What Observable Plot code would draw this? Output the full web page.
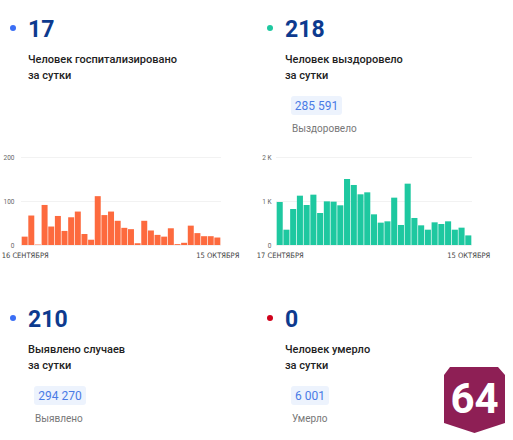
<!DOCTYPE html>
<html>
<head>
<meta charset="utf-8">
<script src="https://cdn.jsdelivr.net/npm/d3@7"></script>
<script src="https://cdn.jsdelivr.net/npm/@observablehq/plot@0.6"></script>
<style>
  html, body { margin: 0; padding: 0; background: #fff; }
  body { width: 513px; height: 440px; position: relative; overflow: hidden; font-family: Roboto, "Noto Sans", sans-serif; }
  .abs { position: absolute; white-space: nowrap; }
  .dot { position: absolute; width: 6px; height: 6px; border-radius: 50%; }
  .big { font-size: 23px; font-weight: 700; color: #0d3a8e; line-height: 1; }
  .desc { font-size: 11px; font-weight: 500; color: #222; line-height: 16px; }
  .box { position: absolute; height: 19px; background: #edf3fd; border-radius: 3px; color: #4a7be6; font-size: 12px; display: flex; align-items: center; justify-content: center; }
  .sub { font-size: 10px; color: #777; line-height: 1; }
  .chart { position: absolute; }
</style>
</head>
<body>
<div id="root"></div>
<script>
// ---- data ----
const hospStart = "2021-09-16";
const hospTickLabels = ["16 СЕНТЯБРЯ", "15 ОКТЯБРЯ"];
const hospValues = [19, 67, 1, 91, 42, 66, 32, 63, 76, 25, 12, 111, 68, 76, 55, 39, 36, 4, 55, 33, 23, 19, 38, 2, 5, 44, 27, 20, 20, 17];
const hospYTicks = [0, 100, 200];
const hospYLabels = ["0", "100", "200"];

const recStart = "2021-09-17";
const recTickLabels = ["17 СЕНТЯБРЯ", "15 ОКТЯБРЯ"];
const recValues = [977, 348, 818, 1121, 909, 1144, 727, 992, 985, 902, 1500, 1364, 1152, 1197, 697, 508, 538, 1076, 455, 1394, 614, 447, 348, 515, 477, 538, 348, 394, 218];
const recYTicks = [0, 1000, 2000];
const recYLabels = ["0", "1 K", "2 K"];

const cards = [
  {dot: "#3b6ef5", value: "17", line1: "Человек госпитализировано", line2: "за сутки", total: null, totalLabel: null},
  {dot: "#1ec8a0", value: "218", line1: "Человек выздоровело", line2: "за сутки", total: "285 591", totalLabel: "Выздоровело"},
  {dot: "#3b6ef5", value: "210", line1: "Выявлено случаев", line2: "за сутки", total: "294 270", totalLabel: "Выявлено"},
  {dot: "#d0021b", value: "0", line1: "Человек умерло", line2: "за сутки", total: "6 001", totalLabel: "Умерло"}
];

// ---- layout ----
const root = document.getElementById("root");
const cardPos = [
  {x: 0, y: 0}, {x: 257, y: 0}, {x: 0, y: 290}, {x: 257, y: 290}
];
const boxWidths = [0, 51, 52, 38];

cards.forEach((c, i) => {
  const {x, y} = cardPos[i];
  const dot = document.createElement("div");
  dot.className = "dot";
  dot.style.left = (x + 10) + "px";
  dot.style.top = (y + 25) + "px";
  dot.style.background = c.dot;
  root.appendChild(dot);

  const big = document.createElement("div");
  big.className = "abs big";
  big.style.left = (x + 28) + "px";
  big.style.top = (y + 18) + "px";
  big.textContent = c.value;
  root.appendChild(big);

  const desc = document.createElement("div");
  desc.className = "abs desc";
  desc.style.left = (x + 28) + "px";
  desc.style.top = (y + 52) + "px";
  desc.innerHTML = c.line1 + "<br>" + c.line2;
  root.appendChild(desc);

  if (c.total) {
    const box = document.createElement("div");
    box.className = "box";
    box.style.left = (x + 34) + "px";
    box.style.top = (y + 96) + "px";
    box.style.width = boxWidths[i] + "px";
    box.textContent = c.total;
    root.appendChild(box);

    const sub = document.createElement("div");
    sub.className = "abs sub";
    sub.style.left = (x + 35) + "px";
    sub.style.top = (y + 123.5) + "px";
    sub.textContent = c.totalLabel;
    root.appendChild(sub);
  }
});

function dayKeys(start, n) {
  const s = new Date(start + "T00:00:00Z");
  return d3.utcDay.range(s, d3.utcDay.offset(s, n)).map(d3.utcFormat("%Y-%m-%d"));
}

function makeChart(values, start, tickLabels, yTicks, yLabels, fill, ml, mr, tp) {
  const days = dayKeys(start, values.length);
  const rows = values.map((v, i) => ({day: days[i], value: v}));
  const ends = [days[0], days[days.length - 1]];
  return Plot.plot({
    width: 245,
    height: 125,
    marginTop: 12,
    marginBottom: 25,
    marginLeft: ml,
    marginRight: mr,
    style: {fontFamily: "Roboto, sans-serif", fontSize: "6.5px", color: "#666", background: "transparent", overflow: "visible"},
    x: {type: "band", domain: days, paddingInner: 0.1, paddingOuter: 0.1, round: false},
    y: {domain: [0, yTicks[yTicks.length - 1]]},
    marks: [
      Plot.gridY(yTicks, {stroke: "#000", strokeOpacity: 0.05}),
      Plot.barY(rows, {x: "day", y: "value", fill}),
      Plot.axisY(yTicks, {tickSize: 0, tickPadding: tp, tickFormat: d => yLabels[yTicks.indexOf(d)], label: null, fill: "#666"}),
      Plot.axisX(ends, {tickSize: 0, tickPadding: 7, tickFormat: d => tickLabels[ends.indexOf(d)], label: null, fill: "#444", fontSize: 7.5, fontFamily: "'Liberation Sans Narrow', 'DejaVu Sans Condensed', Roboto, sans-serif"})
    ]
  });
}

const c1 = makeChart(hospValues, hospStart, hospTickLabels, hospYTicks, hospYLabels, "#fd6a3e", 21, 24, 7);
c1.classList.add("chart");
c1.style.left = "0px";
c1.style.top = "145px";
root.appendChild(c1);

const c2 = makeChart(recValues, recStart, recTickLabels, recYTicks, recYLabels, "#1ec8a0", 26, 23, 5);
c2.classList.add("chart");
c2.style.left = "250px";
c2.style.top = "145px";
root.appendChild(c2);

// ---- logo ----
const ns = "http://www.w3.org/2000/svg";
const logo = document.createElementNS(ns, "svg");
logo.setAttribute("width", "70");
logo.setAttribute("height", "75");
logo.style.position = "absolute";
logo.style.left = "440px";
logo.style.top = "362px";
const poly = document.createElementNS(ns, "polygon");
poly.setAttribute("points", "4,13 10,5 58,5 65,13 65,61 34.5,71 4,61");
poly.setAttribute("fill", "#8e1f55");
logo.appendChild(poly);
const t = document.createElementNS(ns, "text");
t.setAttribute("x", "34.5");
t.setAttribute("y", "51");
t.setAttribute("text-anchor", "middle");
t.setAttribute("fill", "#fff");
t.setAttribute("font-family", "Roboto, sans-serif");
t.setAttribute("font-weight", "700");
t.setAttribute("font-size", "42");
t.textContent = "64";
logo.appendChild(t);
root.appendChild(logo);
</script>
</body>
</html>
